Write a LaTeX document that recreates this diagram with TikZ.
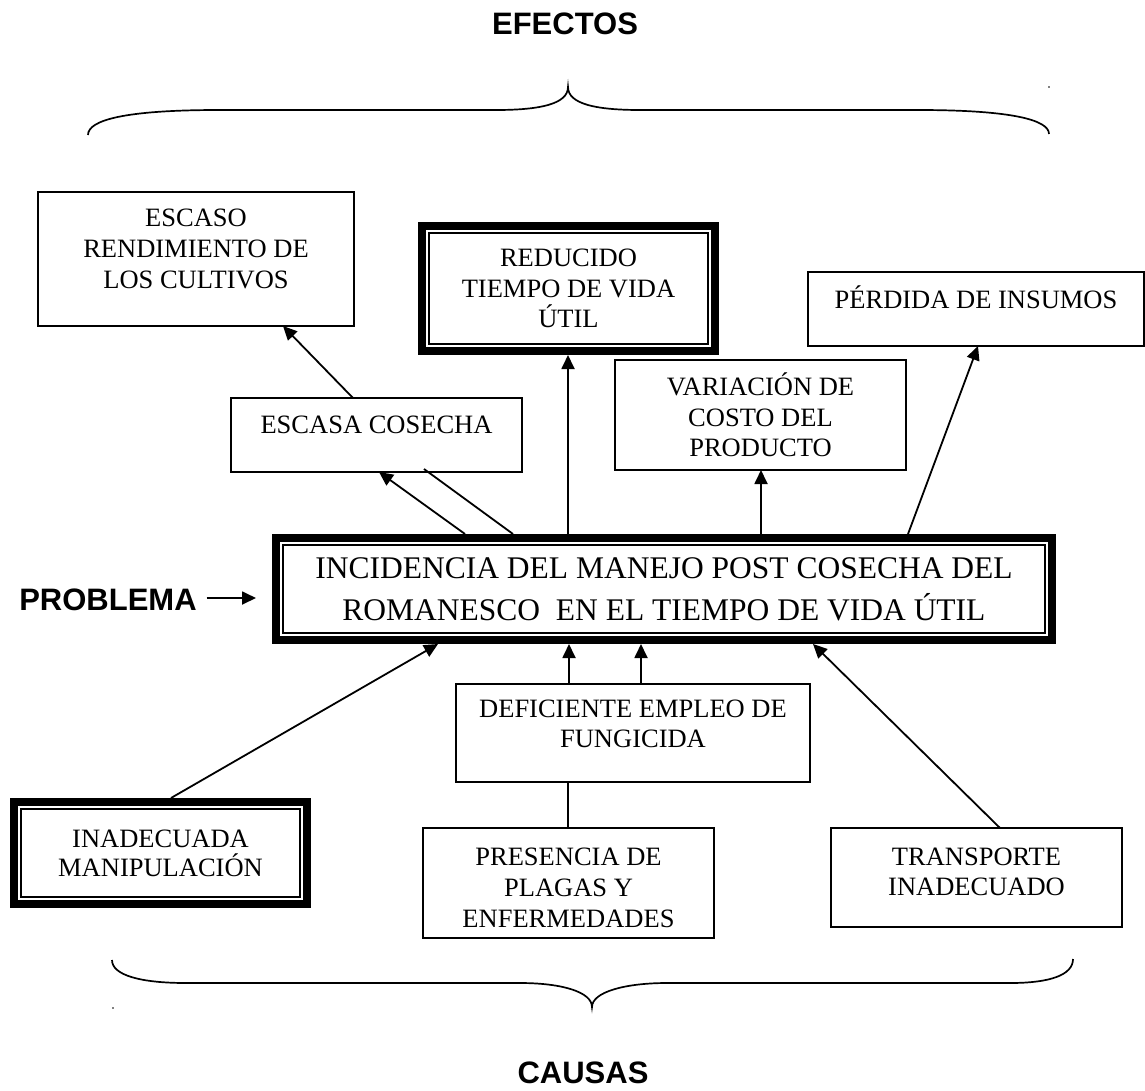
\documentclass[tikz,border=0pt]{standalone}
\usepackage{fontspec}
\setmainfont{Liberation Serif}
\newfontfamily\hdrfont{Liberation Sans}
\usetikzlibrary{arrows.meta}
% #1 width, #2 height, #3 extra space below (moves text up by half), #4 size, #5 leading, #6 text
\newcommand{\tbox}[6]{\parbox[c][#2pt][c]{#1pt}{\centering\fontsize{#4}{#5}\selectfont #6\par\vspace{#3pt}}}
\newcommand{\thickframe}[1]{%
  \draw[line width=8pt, line join=miter] ([shift={(4pt,-4pt)}]#1.north west) rectangle ([shift={(-4pt,4pt)}]#1.south east);
  \draw[line width=1.5pt] ([shift={(11pt,-11pt)}]#1.north west) rectangle ([shift={(-11pt,11pt)}]#1.south east);}
\begin{document}
\begin{tikzpicture}[x=1pt,y=-1pt,
  every node/.style={inner sep=0pt, outer sep=0pt},
  box/.style={draw, line width=1.9pt},
  conn/.style={line width=1.8pt},
  arr/.style={conn, -{Triangle[length=14pt,width=13pt]}},
  hdr/.style={font=\hdrfont\bfseries\fontsize{31}{36}\selectfont},
  bracepath/.style={line width=1.7pt}]
\useasboundingbox[fill=white] (0,0) rectangle (1145,1090);

% headers
\node[hdr] (efe) at (565,24) {EFECTOS};
\node[hdr] (prob) at (108,600) {PROBLEMA};
\node[hdr] (cau) at (583,1073) {CAUSAS};

% braces
\draw[bracepath] (88,135) .. controls (88,120) and (125,110) .. (219,110) -- (496,110)
  .. controls (540,110) and (568,104) .. (568,87)
  .. controls (568,104) and (596,110) .. (640,110) -- (918,110)
  .. controls (1012,110) and (1049,120) .. (1049,134);
\draw[bracepath] (112,960) .. controls (112,975) and (140,983) .. (186,983) -- (520,983)
  .. controls (562,983) and (592,992) .. (592,1007)
  .. controls (592,992) and (625,983) .. (667,983) -- (1010,983)
  .. controls (1050,983) and (1073,975) .. (1073,959);
\fill (1049,87) circle (0.8pt);
\fill (113,1008) circle (0.8pt);

% effect boxes
\node[box] (eso) at (196,259) {\tbox{316}{134}{20}{26.5}{31}{ESCASO\\RENDIMIENTO DE\\LOS CULTIVOS}};
\node (red) at (568.5,288.5) {\tbox{301}{133}{0}{26.5}{30.5}{REDUCIDO\\TIEMPO DE VIDA\\ÚTIL}};
\thickframe{red}
\node[box] (per) at (976,309) {\tbox{336}{74}{24}{26.5}{30.5}{PÉRDIDA DE INSUMOS}};
\node[box] (var) at (760.5,415) {\tbox{291}{110}{0}{26.5}{30.5}{VARIACIÓN DE\\COSTO DEL\\PRODUCTO}};
\node[box] (esc) at (376.5,435) {\tbox{291}{74}{20}{26.5}{30.5}{ESCASA COSECHA}};

% problem box
\node (cen) at (664,589) {\tbox{784}{110}{0}{31.5}{42}{INCIDENCIA DEL MANEJO POST COSECHA DEL\\ROMANESCO\ \ EN EL TIEMPO DE VIDA ÚTIL}};
\thickframe{cen}

% cause boxes
\node[box] (dfc) at (633,733) {\tbox{354}{98}{18}{26.5}{30.5}{DEFICIENTE EMPLEO DE\\FUNGICIDA}};
\node (ina) at (160.5,853) {\tbox{301}{110}{0}{26.5}{29}{INADECUADA\\MANIPULACIÓN}};
\thickframe{ina}
\node[box] (pre) at (568.5,883) {\tbox{291}{110}{-10}{26.5}{31}{PRESENCIA DE\\PLAGAS Y\\ENFERMEDADES}};
\node[box] (tra) at (976.5,877.5) {\tbox{291}{99}{12}{26.5}{30}{TRANSPORTE\\INADECUADO}};

% connectors
\coordinate (probtip) at (256,598);
\draw[arr] ([xshift=10pt]prob.east |- probtip) -- (probtip);
\draw[arr] (353,0 |- esc.north) -- (283,0 |- eso.south);
\draw[arr] (465,0 |- cen.north) -- (379,0 |- esc.south);
\coordinate (escgap) at (424,469);
\draw[conn] (513,0 |- cen.north) -- (escgap);
\draw[arr] (568,0 |- cen.north) -- (568,0 |- red.south);
\draw[arr] (761,0 |- cen.north) -- (761,0 |- var.south);
\draw[arr] (908,0 |- cen.north) -- (978,0 |- per.south);
\draw[arr] (171,0 |- ina.north) -- (438,0 |- cen.south);
\draw[arr] (569,0 |- dfc.north) -- (569,0 |- cen.south);
\draw[arr] (641,0 |- dfc.north) -- (641,0 |- cen.south);
\draw[conn] (568,0 |- pre.north) -- (568,0 |- dfc.south);
\draw[arr] (1000,0 |- tra.north) -- (813,0 |- cen.south);
\end{tikzpicture}
\end{document}
